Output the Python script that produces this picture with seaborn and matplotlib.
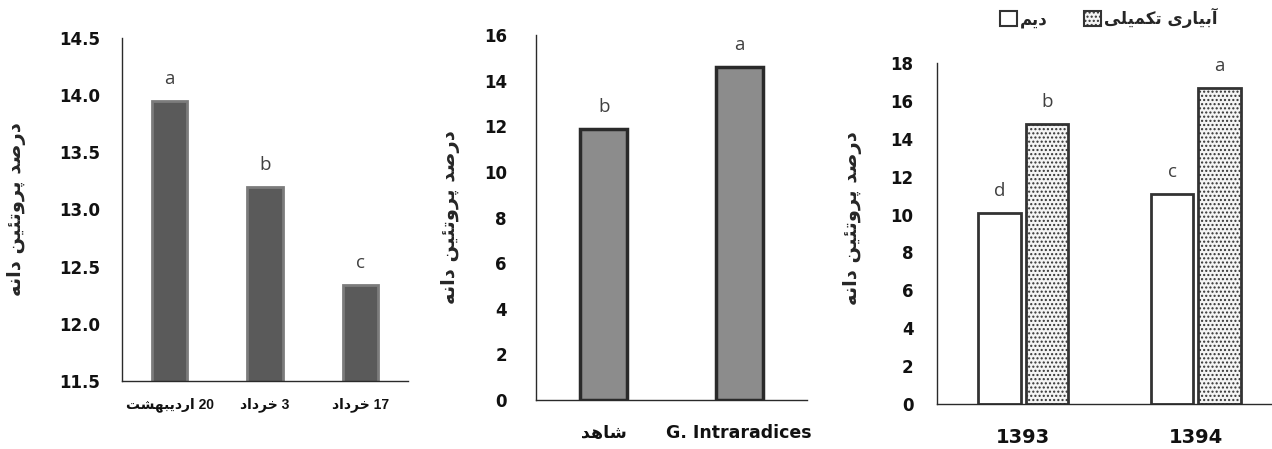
import numpy as np
import pandas as pd
import matplotlib
matplotlib.use('Agg')
import matplotlib.pyplot as plt
from matplotlib.patches import Patch
import seaborn as sns

# ---- data ----
ylabel_fa = 'درصد پروتئین دانه'

dates = ['20 اردیبهشت', '3 خرداد', '17 خرداد']
protein_dates = [13.95, 13.2, 12.34]
letters_dates = ['a', 'b', 'c']

inoc = ['شاهد', 'G. Intraradices']
protein_inoc = [11.9, 14.6]
letters_inoc = ['b', 'a']

years = ['1393', '1394']
irrig = ['دیم', 'آبیاری تکمیلی']
protein_dryland = [10.1, 11.1]
protein_suppl = [14.8, 16.7]
letters_dryland = ['d', 'c']
letters_suppl = ['b', 'a']

# ---- minimal Persian shaping (presentation forms, visual order) ----
FORMS = {
    'ا': ('\uFE8D', '\uFE8E', None, None),
    'آ': ('\uFE81', '\uFE82', None, None),
    'ب': ('\uFE8F', '\uFE90', '\uFE91', '\uFE92'),
    'پ': ('\uFB56', '\uFB57', '\uFB58', '\uFB59'),
    'ت': ('\uFE95', '\uFE96', '\uFE97', '\uFE98'),
    'خ': ('\uFEA5', '\uFEA6', '\uFEA7', '\uFEA8'),
    'د': ('\uFEA9', '\uFEAA', None, None),
    'ر': ('\uFEAD', '\uFEAE', None, None),
    'ش': ('\uFEB5', '\uFEB6', '\uFEB7', '\uFEB8'),
    'ص': ('\uFEB9', '\uFEBA', '\uFEBB', '\uFEBC'),
    'ک': ('\uFB8E', '\uFB8F', '\uFB90', '\uFB91'),
    'ل': ('\uFEDD', '\uFEDE', '\uFEDF', '\uFEE0'),
    'م': ('\uFEE1', '\uFEE2', '\uFEE3', '\uFEE4'),
    'ن': ('\uFEE5', '\uFEE6', '\uFEE7', '\uFEE8'),
    'ه': ('\uFEE9', '\uFEEA', '\uFEEB', '\uFEEC'),
    'و': ('\uFEED', '\uFEEE', None, None),
    'ئ': ('\uFE89', '\uFE8A', '\uFE8B', '\uFE8C'),
    'ی': ('\uFBFC', '\uFBFD', '\uFBFE', '\uFBFF'),
}


def shape_word(w):
    out = []
    for i, ch in enumerate(w):
        if ch not in FORMS:
            out.append(ch)
            continue
        iso, fin, ini, med = FORMS[ch]
        prev = w[i - 1] if i > 0 else None
        nxt = w[i + 1] if i < len(w) - 1 else None
        join_prev = prev in FORMS and FORMS[prev][2] is not None
        join_next = ini is not None and nxt in FORMS
        if join_prev and join_next:
            out.append(med)
        elif join_prev:
            out.append(fin)
        elif join_next:
            out.append(ini)
        else:
            out.append(iso)
    return ''.join(reversed(out))


def rtl(text):
    if not any(c in FORMS for c in text):
        return text
    words = text.split(' ')
    return ' '.join(shape_word(w) if any(c in FORMS for c in w) else w
                    for w in reversed(words))


sns.set_style('white')
plt.rcParams['font.family'] = ['DejaVu Sans']
plt.rcParams['font.weight'] = 'bold'

W, H = 1272, 449
fig = plt.figure(figsize=(W / 100, H / 100), dpi=100)


def add_ax(left, right, top, bottom):
    return fig.add_axes([left / W, 1 - bottom / H, (right - left) / W, (bottom - top) / H])


def style_ax(ax, ypad, xpad):
    sns.despine(ax=ax)
    for s in ['left', 'bottom']:
        ax.spines[s].set_color('#2a2a2a')
        ax.spines[s].set_linewidth(1.0)
    ax.tick_params(axis='y', length=0, pad=ypad, labelsize=12, labelcolor='#111')
    ax.tick_params(axis='x', length=0, pad=xpad, labelcolor='#111')
    ax.set_xlabel('')
    ax.set_ylabel(rtl(ylabel_fa), fontsize=14, fontweight='bold')


def set_xfont(ax, family, size):
    for lbl in ax.get_xticklabels():
        lbl.set_fontfamily(family)
        lbl.set_fontsize(size)


def add_letters(ax, container, labels):
    ax.bar_label(container, labels=labels, padding=9, fontsize=13.5,
                 fontweight='normal', color='#404040', family=['Open Sans', 'DejaVu Sans'])


# ---- panel 1 ----
ax1 = add_ax(122, 408, 38, 381)
df1 = pd.DataFrame({'date': [rtl(d) for d in dates], 'protein': protein_dates})
sns.barplot(data=df1, x='date', y='protein', ax=ax1, width=0.37,
            color='#5a5a5a', saturation=1, edgecolor='#7c7c7c', linewidth=2)
ax1.set_ylim(11.5, 14.5)
ax1.set_yticks(np.arange(11.5, 14.51, 0.5))
ax1.set_yticklabels([f'{v:.1f}' for v in np.arange(11.5, 14.51, 0.5)])
style_ax(ax1, 16, 12)
set_xfont(ax1, ['Liberation Sans', 'DejaVu Sans'], 10)
ax1.yaxis.set_label_coords((26 - 122) / 286, 0.5)
add_letters(ax1, ax1.containers[0], letters_dates)

# ---- panel 2 ----
ax2 = add_ax(536, 807, 35, 400)
df2 = pd.DataFrame({'inoc': [rtl(s) for s in inoc], 'protein': protein_inoc})
sns.barplot(data=df2, x='inoc', y='protein', ax=ax2, width=0.35,
            color='#8c8c8c', saturation=1, edgecolor='#2a2a2a', linewidth=2.5)
ax2.set_ylim(0, 16)
ax2.set_yticks(range(0, 17, 2))
style_ax(ax2, 21, 17)
set_xfont(ax2, ['DejaVu Sans'], 12.5)
ax2.yaxis.set_label_coords((460 - 536) / 271, 0.5)
add_letters(ax2, ax2.containers[0], letters_inoc)

# ---- panel 3 ----
ax3 = add_ax(937, 1282, 63, 404)
irr_disp = [rtl(s) for s in irrig]
df3 = pd.DataFrame({
    'year': years * 2,
    'irrig': [irr_disp[0]] * len(years) + [irr_disp[1]] * len(years),
    'protein': protein_dryland + protein_suppl,
})
sns.barplot(data=df3, x='year', y='protein', hue='irrig', hue_order=irr_disp, ax=ax3,
            width=0.55, gap=0.1, palette=['white', '#f4f4f4'], saturation=1,
            edgecolor='#333333', linewidth=2, legend=False)
for bar in ax3.containers[1]:
    bar.set_hatch('....')
    try:
        bar.set_hatchcolor('#909090')
    except AttributeError:
        pass
ax3.set_ylim(0, 18)
ax3.set_yticks(range(0, 19, 2))
style_ax(ax3, 17, 17)
set_xfont(ax3, ['DejaVu Sans'], 14)
ax3.yaxis.set_label_coords((862 - 937) / 345, 1 - (218 - 63) / 341)
add_letters(ax3, ax3.containers[0], letters_dryland)
add_letters(ax3, ax3.containers[1], letters_suppl)

handles = [Patch(facecolor='white', edgecolor='#333333', linewidth=1.5),
           Patch(facecolor='#f4f4f4', edgecolor='#333333', linewidth=1.5, hatch='....')]
fig.legend(handles, irr_disp, loc='center', bbox_to_anchor=(1109 / W, 1 - 18 / H),
           ncol=2, frameon=False, handlelength=1.0, handleheight=1.0,
           handletextpad=0.2, columnspacing=2.2, prop={'size': 12, 'weight': 'bold'})

fig.savefig('out.png', dpi=100)
